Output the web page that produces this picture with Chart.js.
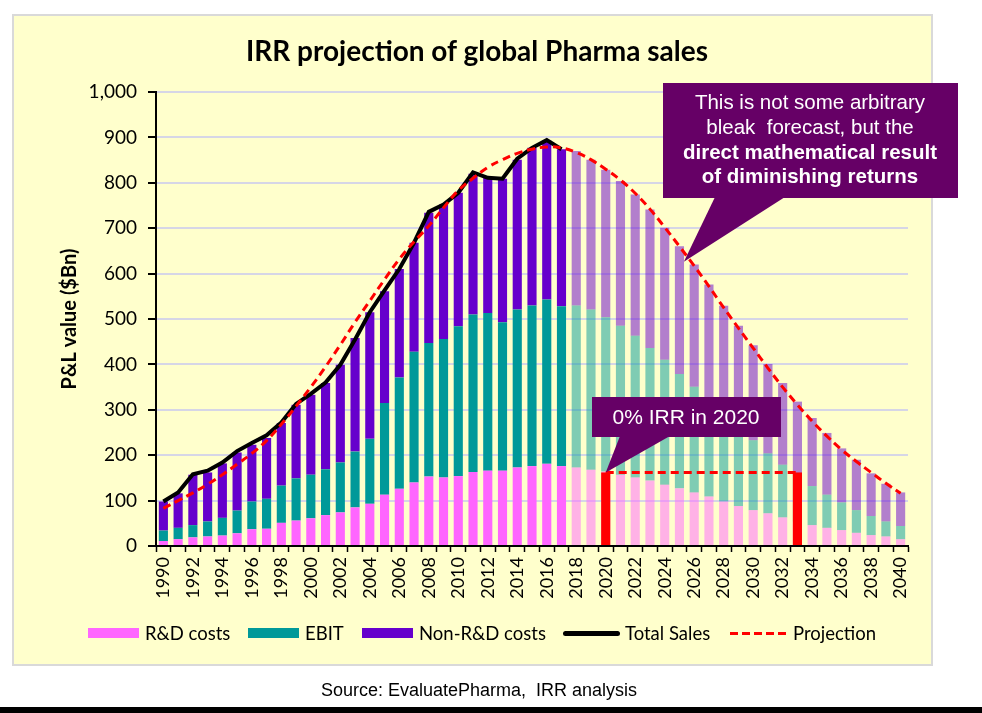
<!DOCTYPE html>
<html>
<head>
<meta charset="utf-8">
<script src="https://cdn.jsdelivr.net/npm/chart.js@4.4.1/dist/chart.umd.min.js"></script>
<style>
  body { margin: 0; background: #fff; }
  .wrap { position: relative; width: 982px; height: 713px; }
  #title { position: absolute; left: 0; width: 954px; top: 33px; line-height: 34px; text-align: center; font: bold 28px Lato, sans-serif; color: #000; }
  #legend .item { position: absolute; top: 622px; display: flex; align-items: center; font: 18.5px Lato, sans-serif; color: #000; white-space: nowrap; }
  #legend .sw { width: 51px; height: 10px; margin-right: 6px; }
  #legend .ln { width: 57px; height: 5px; border-radius: 3px; background: #000; margin-right: 5px; }
  #legend .dash { width: 57px; height: 3px; margin-right: 6px; background: repeating-linear-gradient(90deg, #f00 0 8px, transparent 8px 12px); }
  #source { position: absolute; left: 0; width: 958px; top: 680px; text-align: center; font: 18px "Liberation Sans", Arial, sans-serif; color: #000; }
  #bottomBar { position: absolute; left: 0; top: 707px; width: 982px; height: 6px; background: #000; }
</style>
</head>
<body>
<div class="wrap">
  <canvas id="pharmaChart" width="982" height="713"></canvas>
  <div id="title">IRR projection of global Pharma sales</div>
  <div id="legend">
    <div class="item" style="left:88px"><span class="sw" style="background:#FF66FF"></span>R&amp;D costs</div>
    <div class="item" style="left:248px"><span class="sw" style="background:#009999"></span>EBIT</div>
    <div class="item" style="left:362px"><span class="sw" style="background:#6600CC"></span>Non-R&amp;D costs</div>
    <div class="item" style="left:563px"><span class="ln"></span>Total Sales</div>
    <div class="item" style="left:730px"><span class="dash"></span>Projection</div>
  </div>
  <div id="source">Source: EvaluatePharma,&nbsp; IRR analysis</div>
  <div id="bottomBar"></div>
</div>
<script>
// categories
const years = ['1990', '1991', '1992', '1993', '1994', '1995', '1996', '1997', '1998', '1999',
    '2000', '2001', '2002', '2003', '2004', '2005', '2006', '2007', '2008', '2009',
    '2010', '2011', '2012', '2013', '2014', '2015', '2016', '2017', '2018', '2019',
    '2020', '2021', '2022', '2023', '2024', '2025', '2026', '2027', '2028', '2029',
    '2030', '2031', '2032', '2033', '2034', '2035', '2036', '2037', '2038', '2039', '2040'];

// stacked P&L parts ($Bn)
const rdCosts = [11, 15, 19, 21, 23, 28, 37, 38, 51, 56,
    61, 68, 74, 85, 93, 113, 126, 140, 153, 151,
    154, 163, 166, 166, 173, 176, 181, 176, 173, 168,
    164, 157, 151, 144, 135, 127, 118, 109, 98, 88,
    79, 72, 63, 54, 46, 40, 35, 29, 24, 21, 15];
const ebit = [23, 25, 27, 33, 39, 50, 61, 66, 82, 93,
    96, 101, 110, 123, 143, 202, 245, 288, 294, 305,
    330, 347, 347, 327, 348, 354, 362, 352, 357, 353,
    340, 328, 312, 292, 275, 252, 233, 209, 195, 175,
    154, 132, 116, 101, 86, 73, 61, 50, 42, 33, 29];
const nonRdCosts = [64, 76, 111, 108, 120, 128, 125, 134, 138, 162,
    176, 190, 215, 250, 279, 246, 239, 240, 287, 296,
    294, 310, 298, 316, 330, 347, 350, 346, 340, 330,
    325, 319, 311, 305, 291, 281, 269, 258, 236, 222,
    209, 197, 180, 163, 150, 136, 119, 111, 94, 83, 74];

// actual sales, only up to 2017
const totalSales = [98, 118, 158, 166, 184, 209, 227, 244, 272, 313,
    335, 360, 399, 455, 515, 563, 610, 668, 736, 752,
    778, 823, 811, 809, 853, 877, 894, 874];

const projection = [83, 100, 117, 136, 157, 180, 204, 232, 268, 308,
    350, 395, 443, 493, 540, 587, 632, 670, 705, 745,
    783, 810, 834, 851, 865, 874, 879, 877, 867, 851,
    830, 806, 777, 742, 702, 660, 617, 572, 525, 480,
    436, 392, 350, 311, 275, 242, 212, 186, 162, 138, 116];

// 0% IRR marker
const irrYears = ['2020', '2033'];
const irrLevel = 162;

const yTicks = [0, 100, 200, 300, 400, 500, 600, 700, 800, 900, 1000];
const firstForecast = 2018;

const solid = { rd: '#FF66FF', ebit: '#009999', non: '#6600CC' };
const faded = { rd: 'rgba(255,102,255,0.5)', ebit: 'rgba(0,153,153,0.5)', non: 'rgba(102,0,204,0.5)' };
function shade(key) {
    return years.map(yr => Number(yr) < firstForecast ? solid[key] : faded[key]);
}

const i0 = years.indexOf(irrYears[0]);
const i1 = years.indexOf(irrYears[1]);
const irrBars = years.map(yr => irrYears.includes(yr) ? irrLevel : null);
const irrLine = years.map((yr, i) => (i >= i0 && i <= i1) ? irrLevel : null);

const panelBg = {
    id: 'panelBg',
    beforeDraw(chart) {
        const c = chart.ctx;
        c.save();
        c.fillStyle = '#FFFFCC';
        c.fillRect(13, 15, 919, 650);
        c.strokeStyle = '#D9D9D9';
        c.lineWidth = 2;
        c.strokeRect(13, 15, 919, 650);
        c.restore();
    }
};

// speech bubbles
const callouts = {
    id: 'callouts',
    afterDraw(chart) {
        const { ctx: c, scales: { x, y } } = chart;
        c.save();
        c.fillStyle = '#660066';

        // big note, pointing at the projection curve
        const tx = x.getPixelForValue(years.indexOf('2025') + 0.3);
        const ty = y.getPixelForValue(626);
        c.fillRect(663, 83, 295, 115);
        c.beginPath();
        c.moveTo(715, 197);
        c.lineTo(785, 197);
        c.lineTo(tx, ty);
        c.closePath();
        c.fill();

        // small note, pointing at the 2020 marker
        const sx = x.getPixelForValue(i0);
        const sy = y.getPixelForValue(irrLevel);
        c.fillRect(592, 397, 189, 40);
        c.beginPath();
        c.moveTo(620, 436);
        c.lineTo(670, 436);
        c.lineTo(sx, sy);
        c.closePath();
        c.fill();

        c.fillStyle = '#fff';
        c.textAlign = 'center';
        c.textBaseline = 'middle';
        c.font = '20.5px "Liberation Sans", Arial, sans-serif';
        c.fillText('This is not some arbitrary', 810, 103);
        c.fillText('bleak  forecast, but the', 810, 128);
        c.font = 'bold 20.5px "Liberation Sans", Arial, sans-serif';
        c.fillText('direct mathematical result', 810, 153);
        c.fillText('of diminishing returns', 810, 177);
        c.font = '21px "Liberation Sans", Arial, sans-serif';
        c.fillText('0% IRR in 2020', 686, 418);
        c.restore();
    }
};

const ctx = document.getElementById('pharmaChart').getContext('2d');

new Chart(ctx, {
    data: {
        labels: years,
        datasets: [
            {
                type: 'bar',
                label: 'R&D costs',
                data: rdCosts,
                backgroundColor: shade('rd'),
                stack: 'pl',
                order: 3
            },
            {
                type: 'bar',
                label: 'EBIT',
                data: ebit,
                backgroundColor: shade('ebit'),
                stack: 'pl',
                order: 3
            },
            {
                type: 'bar',
                label: 'Non-R&D costs',
                data: nonRdCosts,
                backgroundColor: shade('non'),
                stack: 'pl',
                order: 3
            },
            {
                type: 'bar',
                label: '0% IRR',
                data: irrBars,
                backgroundColor: '#FF0000',
                grouped: false,
                stack: 'irr',
                order: 2
            },
            {
                type: 'line',
                label: 'Total Sales',
                data: totalSales,
                borderColor: '#000',
                borderWidth: 4,
                pointRadius: 0,
                stack: 'total',
                order: 1
            },
            {
                type: 'line',
                label: 'Projection',
                data: projection,
                borderColor: '#FF0000',
                borderWidth: 3,
                borderDash: [8, 5],
                tension: 0.4,
                pointRadius: 0,
                stack: 'proj',
                order: 0
            },
            {
                type: 'line',
                label: 'IRR level',
                data: irrLine,
                borderColor: '#FF0000',
                borderWidth: 3,
                borderDash: [8, 5],
                pointRadius: 0,
                stack: 'irrline',
                order: 0
            }
        ]
    },
    options: {
        responsive: false,
        animation: false,
        layout: { padding: { top: 92, left: 13, right: 74, bottom: 109 } },
        datasets: {
            bar: { categoryPercentage: 1, barPercentage: 0.62 }
        },
        plugins: {
            legend: { display: false },
            tooltip: { enabled: false }
        },
        scales: {
            x: {
                stacked: true,
                border: { color: '#000', width: 2 },
                grid: { drawOnChartArea: false, tickColor: '#000', tickLength: 6, tickWidth: 1.5 },
                ticks: {
                    autoSkip: false,
                    minRotation: 90,
                    maxRotation: 90,
                    padding: 5,
                    color: '#000',
                    font: { family: 'Lato', size: 18 },
                    callback: (v, i) => i % 2 === 0 ? years[i] : ''
                },
                afterFit: s => { s.height = 58; }
            },
            y: {
                stacked: true,
                min: 0,
                max: 1000,
                afterBuildTicks: s => { s.ticks = yTicks.map(v => ({ value: v })); },
                border: { color: '#000', width: 2 },
                grid: { color: '#D6D6E6', lineWidth: 2, tickColor: '#000', tickLength: 8 },
                ticks: {
                    padding: 11,
                    color: '#000',
                    font: { family: 'Lato', size: 19 },
                    callback: v => v.toLocaleString('en-US')
                },
                title: {
                    display: true,
                    text: 'P&L value ($Bn)',
                    color: '#000',
                    font: { family: 'Lato', size: 20, weight: 'bold' },
                    padding: { top: 45 }
                },
                afterFit: s => { s.width = 143; }
            }
        }
    },
    plugins: [panelBg, callouts]
});
</script>
</body>
</html>
